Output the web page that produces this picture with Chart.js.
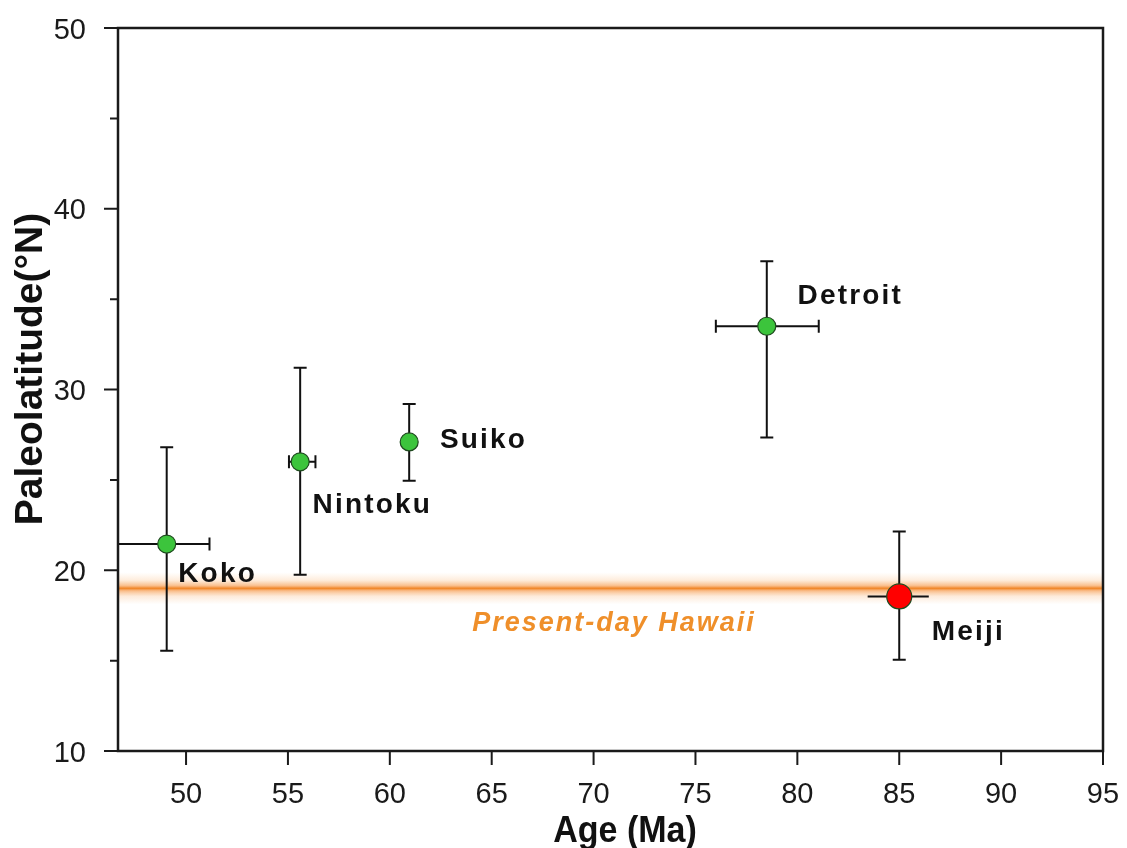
<!DOCTYPE html>
<html><head><meta charset="utf-8">
<script src="https://cdn.jsdelivr.net/npm/chart.js@4.4.1/dist/chart.umd.min.js"></script>
<style>html,body{margin:0;padding:0;background:#fff}#wrap{width:1127px;height:848px}</style>
</head><body><div id="wrap"><canvas id="c" width="1127" height="848"></canvas></div>
<script>
const names = ["Koko", "Nintoku", "Suiko", "Detroit", "Meiji"];
const ages = [49.05, 55.6, 60.95, 78.5, 85.0];
const lats = [21.45, 26.0, 27.1, 33.5, 18.55];
const ageLow = [46.0, 55.05, 60.95, 76.0, 83.45];
const ageHigh = [51.15, 56.35, 60.95, 81.05, 86.45];
const latLow = [15.55, 19.75, 24.95, 27.35, 15.05];
const latHigh = [26.8, 31.2, 29.2, 37.1, 22.15];
const hawaiiLat = 19.0;
const hawaiiLabel = "Present-day Hawaii";
const xTickValues = [50, 55, 60, 65, 70, 75, 80, 85, 90, 95];
const yMajorTicks = [10, 20, 30, 40, 50];
const yMinorTicks = [15, 25, 35, 45];
const xTitle = "Age (Ma)";
const yTitle = "Paleolatitude(°N)";

const pointColors = ["#3cc43c", "#3cc43c", "#3cc43c", "#3cc43c", "#ff0000"];
const pointRadii = [9, 9, 9, 9, 12.5];
const labelOffsets = [[11.5, 37.7], [12.4, 51], [30.7, 5.6], [30.7, -22.4], [32.4, 43.3]];

const FONT = "'Liberation Sans', Arial, Helvetica, sans-serif";

const decor = {
  id: 'decor',
  beforeDatasetsDraw(chart) {
    const ctx = chart.ctx, a = chart.chartArea, y = chart.scales.y, x = chart.scales.x;
    const py = y.getPixelForValue(hawaiiLat);
    ctx.save();
    ctx.beginPath(); ctx.rect(a.left, a.top, a.right - a.left, a.bottom - a.top); ctx.clip();
    const h = 16;
    const g = ctx.createLinearGradient(0, py - h, 0, py + h);
    g.addColorStop(0, 'rgba(250,175,100,0)');
    g.addColorStop(0.25, 'rgba(248,165,90,0.22)');
    g.addColorStop(0.42, 'rgba(245,145,60,0.6)');
    g.addColorStop(0.5, 'rgba(240,132,38,1)');
    g.addColorStop(0.58, 'rgba(245,145,60,0.6)');
    g.addColorStop(0.75, 'rgba(248,165,90,0.22)');
    g.addColorStop(1, 'rgba(250,175,100,0)');
    ctx.fillStyle = g;
    ctx.fillRect(a.left, py - h, a.right - a.left, 2 * h);
    // error bars
    ctx.strokeStyle = '#111'; ctx.lineWidth = 2;
    const cap = 6.5;
    for (let i = 0; i < ages.length; i++) {
      const cx = x.getPixelForValue(ages[i]), cy = y.getPixelForValue(lats[i]);
      const y1 = y.getPixelForValue(latHigh[i]), y2 = y.getPixelForValue(latLow[i]);
      ctx.beginPath();
      ctx.moveTo(cx, y1); ctx.lineTo(cx, y2);
      ctx.moveTo(cx - cap, y1); ctx.lineTo(cx + cap, y1);
      ctx.moveTo(cx - cap, y2); ctx.lineTo(cx + cap, y2);
      if (ageHigh[i] > ageLow[i]) {
        const x1 = x.getPixelForValue(ageLow[i]), x2 = x.getPixelForValue(ageHigh[i]);
        ctx.moveTo(x1, cy); ctx.lineTo(x2, cy);
        if (i !== 4) {
          ctx.moveTo(x1, cy - cap); ctx.lineTo(x1, cy + cap);
          ctx.moveTo(x2, cy - cap); ctx.lineTo(x2, cy + cap);
        }
      }
      ctx.stroke();
    }
    ctx.restore();
  },
  afterDatasetsDraw(chart) {
    const ctx = chart.ctx, a = chart.chartArea, y = chart.scales.y, x = chart.scales.x;
    ctx.save();
    // frame
    ctx.strokeStyle = '#1a1a1a'; ctx.lineWidth = 2.5;
    ctx.strokeRect(a.left, a.top, a.right - a.left, a.bottom - a.top);
    // ticks
    ctx.lineWidth = 2;
    ctx.beginPath();
    yMajorTicks.forEach(v => { const p = y.getPixelForValue(v); ctx.moveTo(a.left - 14, p); ctx.lineTo(a.left, p); });
    yMinorTicks.forEach(v => { const p = y.getPixelForValue(v); ctx.moveTo(a.left - 8, p); ctx.lineTo(a.left, p); });
    xTickValues.forEach(v => { const p = x.getPixelForValue(v); ctx.moveTo(p, a.bottom); ctx.lineTo(p, a.bottom + 14); });
    ctx.stroke();
    // tick labels
    ctx.fillStyle = '#1a1a1a';
    ctx.font = '29px ' + FONT;
    ctx.textAlign = 'center'; ctx.textBaseline = 'alphabetic';
    xTickValues.forEach(v => ctx.fillText(String(v), x.getPixelForValue(v), a.bottom + 52));
    ctx.textAlign = 'right';
    yMajorTicks.forEach(v => ctx.fillText(String(v), a.left - 32, y.getPixelForValue(v) + 10.5));
    // point labels
    ctx.fillStyle = '#111';
    ctx.font = 'bold 28px ' + FONT;
    ctx.letterSpacing = '2.2px';
    ctx.textAlign = 'left';
    names.forEach((n, i) => {
      const px = x.getPixelForValue(ages[i]) + labelOffsets[i][0];
      const py = y.getPixelForValue(lats[i]) + labelOffsets[i][1];
      ctx.fillText(n, px, py);
    });
    // hawaii label
    ctx.fillStyle = '#ef8f2a';
    ctx.font = 'italic bold 27px ' + FONT;
    ctx.letterSpacing = '2px';
    ctx.textAlign = 'center';
    ctx.fillText(hawaiiLabel, x.getPixelForValue(71.0), y.getPixelForValue(hawaiiLat) + 42.4);
    // axis titles
    ctx.fillStyle = '#111';
    ctx.letterSpacing = '0px';
    ctx.font = 'bold 37px ' + FONT;
    ctx.save();
    ctx.translate(625, 842); ctx.scale(0.92, 1);
    ctx.fillText(xTitle, 0, 0);
    ctx.restore();
    ctx.font = 'bold 39px ' + FONT;
    ctx.save();
    ctx.translate(42, 369); ctx.rotate(-Math.PI / 2);
    ctx.fillText(yTitle, 0, 0);
    ctx.restore();
    ctx.restore();
  }
};

new Chart(document.getElementById('c'), {
  type: 'scatter',
  data: {
    datasets: [{
      data: ages.map((a, i) => ({ x: a, y: lats[i] })),
      backgroundColor: pointColors,
      borderColor: '#1f4a1f',
      borderWidth: 1.2,
      pointRadius: pointRadii,
      pointHoverRadius: pointRadii
    }]
  },
  options: {
    responsive: false,
    animation: false,
    events: [],
    layout: { padding: { top: 28, right: 24, left: 0, bottom: 0 } },
    plugins: { legend: { display: false }, tooltip: { enabled: false } },
    scales: {
      x: {
        type: 'linear', min: 46.66, max: 95,
        grid: { display: false, drawTicks: false },
        border: { display: false },
        afterBuildTicks: s => { s.ticks = xTickValues.map(v => ({ value: v })); },
        afterFit: s => { s.height = 97; },
        ticks: { display: false }
      },
      y: {
        type: 'linear', min: 10, max: 50,
        grid: { display: false, drawTicks: false },
        border: { display: false },
        afterBuildTicks: s => { s.ticks = yMajorTicks.map(v => ({ value: v })); },
        afterFit: s => { s.width = 118; },
        ticks: { display: false }
      }
    }
  },
  plugins: [decor]
});
</script></body></html>
